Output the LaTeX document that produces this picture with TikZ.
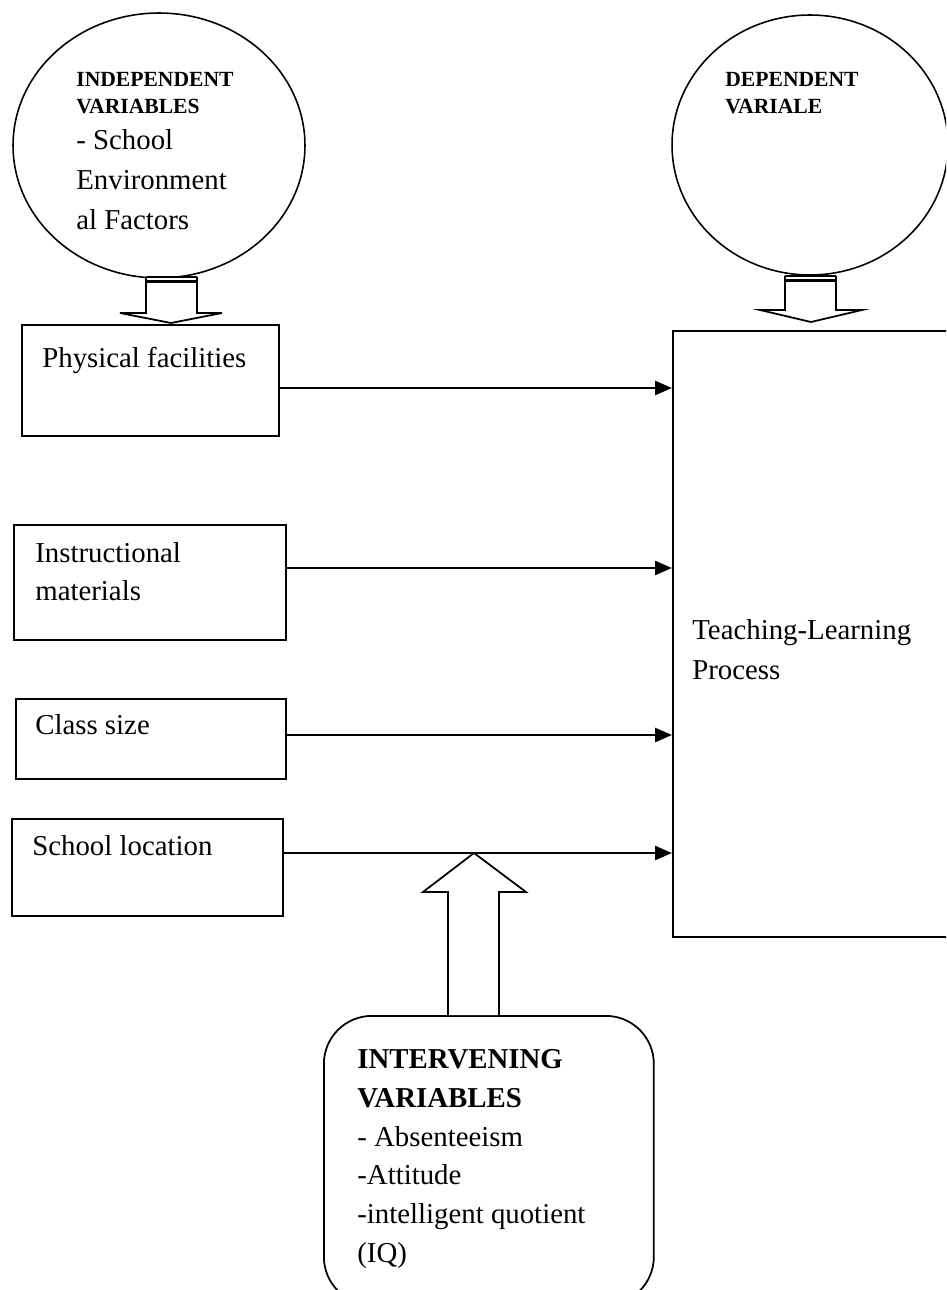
\documentclass[tikz,border=0pt]{standalone}
\usepackage{fontspec}
\setmainfont{Liberation Serif}
\usetikzlibrary{arrows.meta,shapes.geometric}

\begin{document}
\begin{tikzpicture}[
  x=0.02cm, y=-0.02cm,
  varcircle/.style={
    draw,
    ellipse,
    line width=0.9pt,
    inner sep=0pt
  },
  factor/.style={
    draw,
    rectangle,
    line width=1pt,
    anchor=north west,
    inner sep=0pt
  },
  bodytext/.style={
    anchor=north west,
    inner sep=0pt,
    align=left,
    font=\fontsize{16.4}{22.7}\selectfont
  },
  headtext/.style={
    anchor=north west,
    inner sep=0pt,
    align=left,
    font=\bfseries\fontsize{12.3}{15.4}\selectfont
  },
  link/.style={-{Triangle[length=0.34cm,width=0.28cm]},line width=1.4pt},
  hollow/.style={draw,line width=1pt,fill=white,line join=miter}
]
  \useasboundingbox (0,0) rectangle (946,1290);
  \clip (0,0) rectangle (946,1290);

  \node[varcircle,minimum width=5.84cm,minimum height=5.3cm] (indep) at (159,145.5) {};
  \node[varcircle,minimum width=5.52cm,minimum height=5.2cm] (dep) at (810,145) {};
  \node[headtext] (indephead) at (76,72) {INDEPENDENT\\VARIABLES};
  \node[bodytext] (indepbody) at (76,129) {- School\\Environment\\al Factors};
  \node[headtext] (dephead) at (725,72) {DEPENDENT\\VARIALE};

  \node[factor,minimum width=5.14cm,minimum height=2.22cm] (phys) at (21,324) {};
  \node[factor,minimum width=5.44cm,minimum height=2.3cm] (instr) at (13,524) {};
  \node[factor,minimum width=5.4cm,minimum height=1.6cm] (class) at (15,698) {};
  \node[factor,minimum width=5.42cm,minimum height=1.94cm] (loc) at (11,818) {};
  \node[factor,minimum width=6cm,minimum height=12.12cm] (tlp) at (672,330) {};
  \node[factor,rounded corners=0.96cm,minimum width=6.6cm,minimum height=5.78cm]
    (interv) at (323,1015) {};

  \node[bodytext] (physlabel) at (42,347) {Physical facilities};
  \node[bodytext,font=\fontsize{16.4}{21.6}\selectfont] (instrlabel) at (35,542)
    {Instructional\\materials};
  \node[bodytext] (classlabel) at (35,714) {Class size};
  \node[bodytext] (loclabel) at (32,835) {School location};
  \node[bodytext] (tlplabel) at (692,619) {Teaching-Learning\\Process};
  \node[bodytext,font=\fontsize{16.4}{22.1}\selectfont] (intervlabel) at (357,1049)
    {\textbf{INTERVENING}\\\textbf{VARIABLES}\\- Absenteeism\\-Attitude\\-intelligent quotient\\(IQ)};

  \draw[link] (phys.east |- 0,388) -- (tlp.west |- 0,388);
  \draw[link] (instr.east |- 0,568) -- (tlp.west |- 0,568);
  \draw[link] (class.east |- 0,735) -- (tlp.west |- 0,735);
  \draw[link] (loc.east |- 0,853) -- (tlp.west |- 0,853);

  % block arrows
  \draw[hollow] (146,277) -- (146,313) -- (120,313) -- (171,323) -- (222,313) -- (197,313) -- (197,277);
  \draw[line width=1.3pt] (146,277) -- (197,277) (146,281.5) -- (197,281.5);
  \draw[hollow] (785,276) -- (785,310) -- (760,310) -- (811,322) -- (862,310) -- (836,310) -- (836,276);
  \draw[line width=1.3pt] (785,276) -- (836,276) (785,280.5) -- (836,280.5);
  \draw[hollow] (448,1015) -- (448,892) -- (423,892) -- (474,853) -- (526,892) -- (499,892) -- (499,1015);
\end{tikzpicture}
\end{document}
